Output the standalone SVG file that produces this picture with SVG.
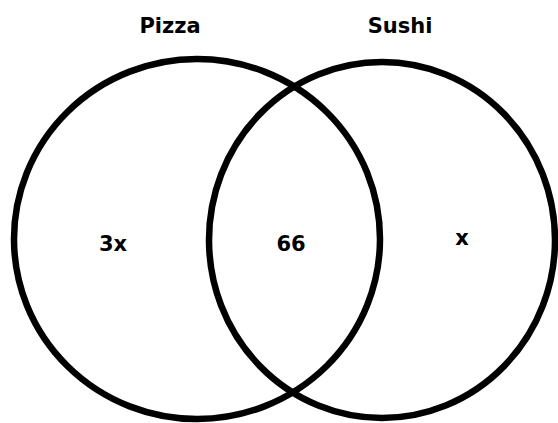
<svg xmlns="http://www.w3.org/2000/svg" width="558" height="423" viewBox="0 0 558 423">
<style>
.c{fill:none;stroke:#000;stroke-width:6.5}
.t{font-family:"DejaVu Sans",Verdana,sans-serif;font-weight:bold;font-size:21px;fill:#000;text-anchor:middle}
</style>
<rect width="558" height="423" fill="#fff"/>
<g id="pizza">
<ellipse class="c" cx="197" cy="239" rx="183" ry="180"/>
<text class="t" x="170" y="33">Pizza</text>
<text class="t" x="113" y="251">3x</text>
</g>
<g id="sushi">
<ellipse class="c" cx="382" cy="240" rx="173" ry="178"/>
<text class="t" x="400" y="33">Sushi</text>
<text class="t" x="462" y="245">x</text>
</g>
<g id="overlap">
<text class="t" x="291" y="251">66</text>
</g>
</svg>
